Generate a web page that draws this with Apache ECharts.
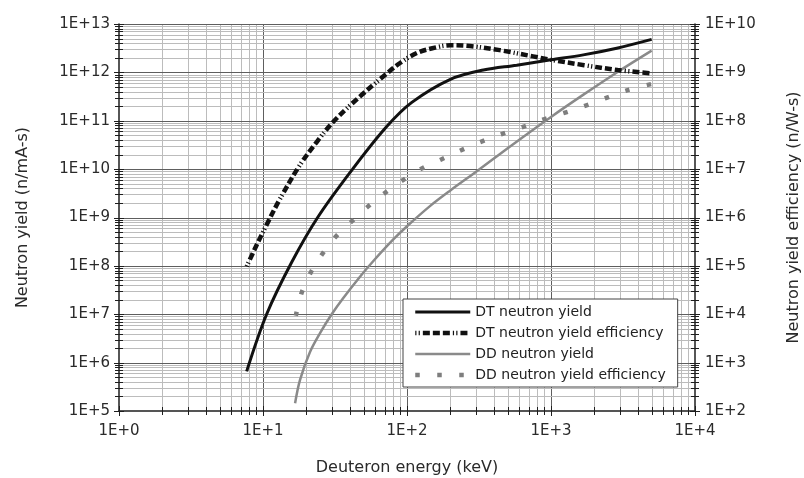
<!DOCTYPE html>
<html>
<head>
<meta charset="utf-8">
<script src="https://cdn.jsdelivr.net/npm/echarts@6/dist/echarts.min.js"></script>
<style>html,body{margin:0;padding:0;background:#fff}#c{width:804px;height:478px}</style>
</head>
<body>
<div id="c"></div>
<script>
// ---------- data ----------
const xTickLabels = ['1E+0', '1E+1', '1E+2', '1E+3', '1E+4'];
const yLeftTickLabels = ['1E+5', '1E+6', '1E+7', '1E+8', '1E+9', '1E+10', '1E+11', '1E+12', '1E+13'];
const yRightTickLabels = ['1E+2', '1E+3', '1E+4', '1E+5', '1E+6', '1E+7', '1E+8', '1E+9', '1E+10'];

const seriesNames = ['DT neutron yield', 'DT neutron yield efficiency', 'DD neutron yield', 'DD neutron yield efficiency'];

// DT neutron yield (n/mA-s), left axis
const dtYieldE = [7.7, 10.6, 15.85, 24.2, 42.4, 72.3, 108, 200, 339, 578, 1000, 1676, 2860, 5000];
const dtYield  = [6.6e5, 1e7, 1.2e8, 1.05e9, 1.05e10, 7.6e10, 2.4e11, 7.2e11, 1.12e12, 1.41e12, 1.82e12, 2.3e12, 3.16e12, 4.8e12];

// DT neutron yield efficiency (n/W-s), right axis
const dtEffE = [7.7, 9, 10.6, 13.1, 18, 23.6, 30.8, 47, 72, 90, 117, 150, 200, 260, 440, 750, 1000, 1700, 2900, 5000];
const dtEff  = [9.77e4, 2.63e5, 7.08e5, 2.4e6, 1.2e7, 3.63e7, 9.55e7, 3.16e8, 9.33e8, 1.58e9, 2.51e9, 3.16e9, 3.63e9, 3.55e9, 2.88e9, 2.14e9, 1.82e9, 1.41e9, 1.12e9, 9.55e8];

// DD neutron yield (n/mA-s), left axis
const ddYieldE = [16.7, 18.1, 21.2, 25, 30, 36, 47, 58, 80, 100, 145, 200, 300, 520, 1000, 1700, 2900, 5000];
const ddYield  = [1.45e5, 4.47e5, 1.66e6, 4.17e6, 1e7, 2.14e7, 5.9e7, 1.23e8, 3.47e8, 6.6e8, 1.74e9, 3.63e9, 8.7e9, 2.95e10, 1.2e11, 3.55e11, 1.02e12, 2.82e12];

// DD neutron yield efficiency (n/W-s), right axis
const ddEffE = [16.9, 18.4, 21.2, 25.6, 31.6, 40.6, 52.5, 69, 92, 124, 170, 233, 321, 450, 626, 876, 1218, 1700, 2370, 3320, 5000];
const ddEff  = [9.3e3, 2.6e4, 6.8e4, 1.7e5, 3.85e5, 7.9e5, 1.6e6, 3.1e6, 5.7e6, 1e7, 1.55e7, 2.4e7, 3.6e7, 5.25e7, 7.3e7, 1.05e8, 1.43e8, 2.0e8, 2.9e8, 4.2e8, 5.75e8];

// ---------- helpers ----------
const X_MIN = 1, X_MAX = 1e4, YL_MIN = 1e5, YL_MAX = 1e13, YR_MIN = 1e2, YR_MAX = 1e10;
const FONT = "'DejaVu Sans', 'Liberation Sans', sans-serif";
const pair = (xs, ys) => xs.map((x, i) => [x, ys[i]]);
function logGridValues(min, max) {
  const out = [];
  for (let e = Math.round(Math.log10(min)); e < Math.round(Math.log10(max)); e++) {
    for (let m = 1; m <= 9; m++) out.push(m * Math.pow(10, e));
  }
  out.push(max);
  return out;
}
const isDecade = v => Math.abs(Math.log10(v) - Math.round(Math.log10(v))) < 1e-9;
const crisp = p => Math.round(p) + 0.5;
const MAJOR = '#5e5e5e', MINOR = '#bcbcbc', AXIS = '#1e1e1e';

const xGrid = logGridValues(X_MIN, X_MAX).map(v => [v, YL_MIN]);
const yGrid = logGridValues(YL_MIN, YL_MAX).map(v => [X_MIN, v]);

function labelFrom(labels, minExp) {
  return v => labels[Math.round(Math.log10(v)) - minExp] || '';
}

const axisLabelStyle = { fontSize: 15, color: '#2a2a2a', fontFamily: FONT };
const nameStyle = { fontSize: 16, color: '#2a2a2a', fontFamily: FONT };

const chart = echarts.init(document.getElementById('c'), null, { renderer: 'canvas' });
chart.setOption({
  animation: false,
  backgroundColor: '#ffffff',
  grid: { left: 119, right: 109, top: 24, bottom: 67, containLabel: false, outerBoundsMode: 'none' },
  legend: {
    data: seriesNames,
    orient: 'vertical',
    left: 403, top: 299,
    itemWidth: 55, itemHeight: 14, itemGap: 7,
    padding: [6, 12, 5, 10],
    borderColor: '#444', borderWidth: 1,
    backgroundColor: '#ffffff',
    itemStyle: { opacity: 0 },
    lineStyle: { width: 'inherit' },
    textStyle: { fontSize: 14, color: '#222', fontFamily: FONT },
    selectedMode: false
  },
  xAxis: {
    type: 'log', logBase: 10, min: X_MIN, max: X_MAX, splitNumber: 4,
    axisLine: { show: true, lineStyle: { color: AXIS, width: 1.5 } },
    axisTick: { show: false },
    splitLine: { show: false },
    axisLabel: Object.assign({ margin: 13, formatter: labelFrom(xTickLabels, 0) }, axisLabelStyle),
    name: 'Deuteron energy (keV)', nameLocation: 'middle', nameGap: 49, nameTextStyle: nameStyle
  },
  yAxis: [{
    type: 'log', logBase: 10, min: YL_MIN, max: YL_MAX, splitNumber: 8,
    axisLine: { show: true, lineStyle: { color: AXIS, width: 1.5 } },
    axisTick: { show: false },
    splitLine: { show: false },
    axisLabel: Object.assign({ margin: 9, formatter: labelFrom(yLeftTickLabels, 5) }, axisLabelStyle),
    name: 'Neutron yield (n/mA-s)', nameLocation: 'middle', nameRotate: 90, nameGap: 88, nameTextStyle: nameStyle
  }, {
    type: 'log', logBase: 10, min: YR_MIN, max: YR_MAX, splitNumber: 8, position: 'right',
    axisLine: { show: true, lineStyle: { color: AXIS, width: 1.5 } },
    axisTick: { show: false },
    splitLine: { show: false },
    axisLabel: Object.assign({ margin: 10, formatter: labelFrom(yRightTickLabels, 2) }, axisLabelStyle),
    name: 'Neutron yield efficiency (n/W-s)', nameLocation: 'middle', nameRotate: 90, nameGap: 91, nameTextStyle: nameStyle
  }],
  series: [
    {
      type: 'custom', name: 'xgrid', z: 1, silent: true, clip: false,
      xAxisIndex: 0, yAxisIndex: 0,
      data: xGrid, encode: { x: 0, y: 1 },
      renderItem: function (params, api) {
        const v = api.value(0);
        const b = api.coord([v, YL_MIN]);
        const t = api.coord([v, YL_MAX]);
        const x = crisp(b[0]);
        const major = isDecade(v);
        const kids = [];
        if (v > X_MIN && v < X_MAX) {
          kids.push({ type: 'line', shape: { x1: x, y1: b[1], x2: x, y2: t[1] },
                      style: { stroke: major ? MAJOR : MINOR, lineWidth: 1 } });
        }
        const tl = major ? 5 : 4;
        kids.push({ type: 'line', shape: { x1: x, y1: b[1] - tl, x2: x, y2: b[1] + tl },
                    style: { stroke: AXIS, lineWidth: 1 } });
        return { type: 'group', children: kids };
      }
    },
    {
      type: 'custom', name: 'ygrid', z: 1, silent: true, clip: false,
      xAxisIndex: 0, yAxisIndex: 0,
      data: yGrid, encode: { x: 0, y: 1 },
      renderItem: function (params, api) {
        const v = api.value(1);
        const l = api.coord([X_MIN, v]);
        const r = api.coord([X_MAX, v]);
        const y = crisp(l[1]);
        const major = isDecade(v);
        const kids = [];
        if (v > YL_MIN) {
          kids.push({ type: 'line', shape: { x1: l[0], y1: y, x2: r[0], y2: y },
                      style: { stroke: major ? MAJOR : MINOR, lineWidth: 1 } });
        }
        const tl = major ? 5 : 4;
        kids.push({ type: 'line', shape: { x1: l[0] - tl, y1: y, x2: l[0] + tl, y2: y },
                    style: { stroke: AXIS, lineWidth: 1 } });
        kids.push({ type: 'line', shape: { x1: r[0] - tl, y1: y, x2: r[0] + tl, y2: y },
                    style: { stroke: AXIS, lineWidth: 1 } });
        return { type: 'group', children: kids };
      }
    },
    {
      name: seriesNames[0], type: 'line', z: 5, yAxisIndex: 0,
      data: pair(dtYieldE, dtYield), smooth: 0.35, symbol: 'none',
      lineStyle: { color: '#111111', width: 3 }, itemStyle: { color: '#111111' }
    },
    {
      name: seriesNames[1], type: 'line', z: 5, yAxisIndex: 1,
      data: pair(dtEffE, dtEff), smooth: 0.35, symbol: 'none',
      lineStyle: { color: '#111111', width: 4.5, type: [1.2, 2.2, 1.2, 3, 7, 3, 7, 3, 7, 3], cap: 'butt' },
      itemStyle: { color: '#111111' }
    },
    {
      name: seriesNames[2], type: 'line', z: 4, yAxisIndex: 0,
      data: pair(ddYieldE, ddYield), smooth: 0.35, symbol: 'none',
      lineStyle: { color: '#8a8a8a', width: 2.5 }, itemStyle: { color: '#8a8a8a' }
    },
    {
      name: seriesNames[3], type: 'line', z: 4, yAxisIndex: 1,
      data: pair(ddEffE, ddEff), smooth: 0.35, symbol: 'none',
      lineStyle: { color: '#7e7e7e', width: 4.5, type: [4.5, 17.5], cap: 'butt' },
      itemStyle: { color: '#7e7e7e' }
    }
  ]
});
</script>
</body>
</html>
